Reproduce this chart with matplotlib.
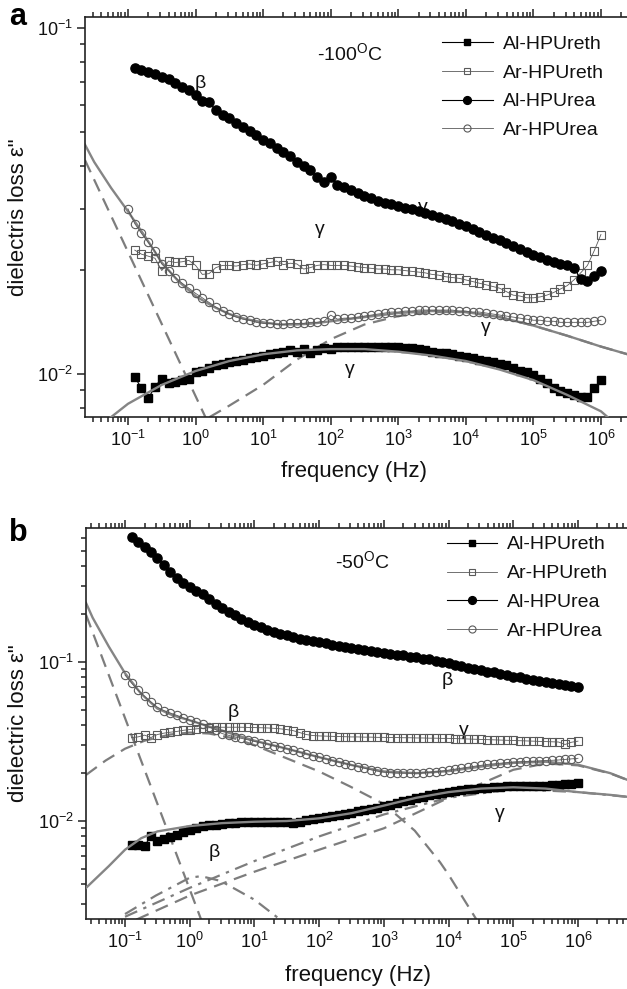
import matplotlib
matplotlib.use('Agg')
import matplotlib.pyplot as plt
from matplotlib.ticker import LogLocator, NullFormatter, FixedLocator

plt.rcParams['font.family'] = ['Liberation Sans', 'DejaVu Sans']
plt.rcParams['mathtext.fontset'] = 'custom'
plt.rcParams['mathtext.rm'] = 'Liberation Sans'
plt.rcParams['mathtext.it'] = 'Liberation Sans:italic'
plt.rcParams['mathtext.bf'] = 'Liberation Sans:bold'

# ---------------- data ----------------
FREQ = [0.1, 0.126, 0.158, 0.2, 0.251, 0.316, 0.398, 0.501, 0.631, 0.794,
        1, 1.26, 1.58, 2, 2.51, 3.16, 3.98, 5.01, 6.31, 7.94,
        10, 12.6, 15.8, 20, 25.1, 31.6, 39.8, 50.1, 63.1, 79.4,
        100, 126, 158, 200, 251, 316, 398, 501, 631, 794,
        1e3, 1.26e3, 1.58e3, 2e3, 2.51e3, 3.16e3, 3.98e3, 5.01e3, 6.31e3, 7.94e3,
        1e4, 1.26e4, 1.58e4, 2e4, 2.51e4, 3.16e4, 3.98e4, 5.01e4, 6.31e4, 7.94e4,
        1e5, 1.26e5, 1.58e5, 2e5, 2.51e5, 3.16e5, 3.98e5, 5.01e5, 6.31e5, 7.94e5,
        1e6]

LABELS = ['Al-HPUreth', 'Ar-HPUreth', 'Al-HPUrea', 'Ar-HPUrea']
X_TICKS = [0.1, 1, 10, 100, 1e3, 1e4, 1e5, 1e6]
Y_TICKS_A = [0.01, 0.1]
Y_TICKS_B = [0.01, 0.1]

# panel a (-100 C); first three series start at 0.126 Hz, Ar-HPUrea at 0.1 Hz
a_al_ureth = [0.0098, 0.0091, 0.0085, 0.0092, 0.0097, 0.0094, 0.0095, 0.0096, 0.0097, 0.0101,
              0.0102, 0.0104, 0.0106, 0.0107, 0.0108, 0.0109, 0.0110, 0.0111, 0.0112, 0.0113,
              0.0114, 0.0115, 0.0116, 0.0117, 0.0116, 0.0118, 0.0115, 0.0117, 0.0119, 0.0118,
              0.0120, 0.0120, 0.0120, 0.0120, 0.0120, 0.0120, 0.0120, 0.0120, 0.0120, 0.0120,
              0.0119, 0.0119, 0.0118, 0.0117, 0.0116, 0.0115, 0.0115, 0.0114, 0.0113, 0.0112,
              0.0111, 0.0110, 0.0109, 0.0108, 0.0107, 0.0106, 0.0104, 0.0102, 0.0101, 0.0099,
              0.0097, 0.0094, 0.0091, 0.0089, 0.0088, 0.0087, 0.0086, 0.0086, 0.0091, 0.0096]
a_ar_ureth = [0.0228, 0.0222, 0.0219, 0.0216, 0.0199, 0.0212, 0.0210, 0.0211, 0.0213, 0.0206,
              0.0194, 0.0195, 0.0203, 0.0206, 0.0206, 0.0205, 0.0207, 0.0208, 0.0206, 0.0208,
              0.0210, 0.0212, 0.0207, 0.0209, 0.0208, 0.0201, 0.0203, 0.0206, 0.0207, 0.0206,
              0.0206, 0.0206, 0.0205, 0.0204, 0.0203, 0.0202, 0.0201, 0.0201, 0.0200, 0.0200,
              0.0199, 0.0198, 0.0197, 0.0196, 0.0194, 0.0193, 0.0191, 0.0190, 0.0189, 0.0187,
              0.0185, 0.0183, 0.0181, 0.0179, 0.0177, 0.0173, 0.0169, 0.0168, 0.0166, 0.0166,
              0.0167, 0.0169, 0.0172, 0.0176, 0.0180, 0.0187, 0.0196, 0.0206, 0.0227, 0.0253]
a_al_urea = [0.0766, 0.0756, 0.0746, 0.0736, 0.0722, 0.0712, 0.0694, 0.0675, 0.0660, 0.0640,
             0.0615, 0.0610, 0.0578, 0.0562, 0.0548, 0.0532, 0.0517, 0.0504, 0.0490, 0.0476,
             0.0464, 0.0451, 0.0439, 0.0427, 0.0410, 0.0400, 0.0388, 0.0372, 0.0360, 0.0372,
             0.0352, 0.0346, 0.0340, 0.0333, 0.0327, 0.0322, 0.0317, 0.0313, 0.0309, 0.0305,
             0.0302, 0.0299, 0.0296, 0.0292, 0.0288, 0.0284, 0.0280, 0.0277, 0.0272, 0.0267,
             0.0262, 0.0257, 0.0253, 0.0248, 0.0244, 0.0239, 0.0234, 0.0229, 0.0225, 0.0221,
             0.0218, 0.0214, 0.0211, 0.0208, 0.0206, 0.0203, 0.0188, 0.0186, 0.0192, 0.0199]
a_ar_urea = [0.0300, 0.0272, 0.0255, 0.0240, 0.0226, 0.0208, 0.0199, 0.0190, 0.0183, 0.0177,
             0.0171, 0.0166, 0.0161, 0.0156, 0.0152, 0.0149, 0.0146, 0.0144, 0.0143, 0.0141,
             0.0140, 0.0140, 0.0139, 0.0139, 0.0140, 0.0140, 0.0140, 0.0141, 0.0141, 0.0142,
             0.0148, 0.0144, 0.0145, 0.0145, 0.0146, 0.0147, 0.0148, 0.0149, 0.0150, 0.0151,
             0.0151, 0.0152, 0.0152, 0.0153, 0.0153, 0.0153, 0.0153, 0.0153, 0.0153, 0.0152,
             0.0152, 0.0151, 0.0151, 0.0150, 0.0149, 0.0148, 0.0147, 0.0146, 0.0145, 0.0144,
             0.0143, 0.0143, 0.0142, 0.0142, 0.0141, 0.0141, 0.0141, 0.0141, 0.0141, 0.0142,
             0.0143]

# panel a fit curves
a_fit_urea_f = [0.0231, 0.0316, 0.0562, 0.1, 0.178, 0.316, 0.562, 1, 1.78, 3.16, 5.62, 10,
                17.8, 31.6, 56.2, 100, 316, 1e3, 3.16e3, 1e4, 3.16e4, 1e5, 3.16e5, 1e6, 2.9e6]
a_fit_urea_y = [0.0460, 0.0410, 0.0345, 0.0295, 0.0250, 0.0210, 0.0185, 0.0168, 0.0157, 0.0149,
                0.0144, 0.0141, 0.0139, 0.0139, 0.0140, 0.0142, 0.0146, 0.0150, 0.0152, 0.0151,
                0.0146, 0.0138, 0.0129, 0.0120, 0.0113]
a_dash_low_f = [0.0231, 1.4]
a_dash_low_y = [0.0415, 0.0075]
a_dash_gam_f = [1.6, 3.16, 10, 31.6, 100, 316, 1e3, 3.16e3, 1e4, 3.16e4, 1e5, 3.16e5, 1e6, 2.9e6]
a_dash_gam_y = [0.0075, 0.0081, 0.0093, 0.0110, 0.0126, 0.0139, 0.0147, 0.0151, 0.0151, 0.0146,
                0.0138, 0.0129, 0.0120, 0.0113]
a_fit_ureth_f = [0.056, 0.1, 0.316, 1, 3.16, 10, 31.6, 100, 316, 1e3, 3.16e3, 1e4, 3.16e4,
                 1e5, 3.16e5, 1e6, 1.26e6]
a_fit_ureth_y = [0.0075, 0.0082, 0.0093, 0.0102, 0.0109, 0.0114, 0.0117, 0.0118, 0.0118, 0.0116,
                 0.0113, 0.0109, 0.0103, 0.0096, 0.0087, 0.0078, 0.0075]

# panel b (-50 C)
b_al_ureth = [0.0071, 0.0071, 0.0070, 0.0080, 0.0075, 0.0077, 0.0079, 0.0082, 0.0085, 0.0088,
              0.0091, 0.0093, 0.0094, 0.0095, 0.0096, 0.0097, 0.0097, 0.0098, 0.0098, 0.0099,
              0.0099, 0.0099, 0.0099, 0.0099, 0.0098, 0.0097, 0.0098, 0.0102, 0.0103, 0.0104,
              0.0106, 0.0107, 0.0109, 0.0110, 0.0112, 0.0115, 0.0117, 0.0119, 0.0121, 0.0124,
              0.0127, 0.0130, 0.0133, 0.0136, 0.0139, 0.0142, 0.0145, 0.0148, 0.0150, 0.0153,
              0.0155, 0.0157, 0.0159, 0.0160, 0.0161, 0.0162, 0.0163, 0.0164, 0.0165, 0.0165,
              0.0166, 0.0166, 0.0167, 0.0167, 0.0167, 0.0168, 0.0168, 0.0170, 0.0172, 0.0174]
b_ar_ureth = [0.0335, 0.0338, 0.0347, 0.0335, 0.0350, 0.0357, 0.0362, 0.0366, 0.0372, 0.0376,
              0.0380, 0.0383, 0.0386, 0.0388, 0.0389, 0.0389, 0.0389, 0.0389, 0.0388, 0.0387,
              0.0386, 0.0385, 0.0383, 0.0380, 0.0376, 0.0370, 0.0360, 0.0350, 0.0345, 0.0343,
              0.0342, 0.0341, 0.0340, 0.0339, 0.0338, 0.0338, 0.0337, 0.0337, 0.0336, 0.0336,
              0.0335, 0.0335, 0.0334, 0.0334, 0.0333, 0.0333, 0.0332, 0.0332, 0.0331, 0.0331,
              0.0330, 0.0329, 0.0328, 0.0327, 0.0326, 0.0325, 0.0324, 0.0323, 0.0322, 0.0321,
              0.0320, 0.0319, 0.0318, 0.0317, 0.0316, 0.0315, 0.0314, 0.0303, 0.0313, 0.0318]
b_al_urea = [0.611, 0.570, 0.530, 0.490, 0.450, 0.410, 0.370, 0.340, 0.315, 0.296,
             0.281, 0.266, 0.248, 0.232, 0.218, 0.207, 0.197, 0.187, 0.178, 0.171,
             0.165, 0.160, 0.155, 0.151, 0.147, 0.143, 0.140, 0.138, 0.136, 0.134,
             0.131, 0.128, 0.126, 0.124, 0.122, 0.121, 0.119, 0.118, 0.116, 0.114,
             0.113, 0.111, 0.110, 0.108, 0.107, 0.105, 0.104, 0.102, 0.100, 0.098,
             0.096, 0.094, 0.092, 0.091, 0.089, 0.087, 0.086, 0.084, 0.083, 0.081,
             0.080, 0.078, 0.077, 0.076, 0.075, 0.074, 0.073, 0.072, 0.071, 0.070]
b_ar_urea = [0.0828, 0.0738, 0.0667, 0.0610, 0.0560, 0.0520, 0.0495, 0.0478, 0.0462, 0.0445,
             0.0430, 0.0418, 0.0405, 0.0390, 0.0376, 0.0355, 0.0346, 0.0338, 0.0331, 0.0324,
             0.0317, 0.0311, 0.0305, 0.0298, 0.0292, 0.0285, 0.0278, 0.0271, 0.0264, 0.0258,
             0.0252, 0.0246, 0.0240, 0.0235, 0.0230, 0.0225, 0.0220, 0.0215, 0.0210, 0.0206,
             0.0203, 0.0201, 0.0200, 0.0200, 0.0200, 0.0200, 0.0201, 0.0202, 0.0204, 0.0206,
             0.0209, 0.0212, 0.0215, 0.0218, 0.0221, 0.0224, 0.0227, 0.0229, 0.0231, 0.0233,
             0.0235, 0.0236, 0.0237, 0.0238, 0.0239, 0.0240, 0.0241, 0.0242, 0.0244, 0.0246,
             0.0248]

# panel b fit curves
b_fit_urea_f = [0.025, 0.0316, 0.0562, 0.1, 0.178, 0.316, 0.562, 1, 3.16, 10, 31.6, 100, 316,
                1e3, 3.16e3, 1e4, 3.16e4, 1e5, 3.16e5, 1e6, 3.16e6, 6.8e6]
b_fit_urea_y = [0.235, 0.190, 0.125, 0.085, 0.063, 0.051, 0.046, 0.043, 0.037, 0.032, 0.0285,
                0.0252, 0.0225, 0.0205, 0.0200, 0.0206, 0.0220, 0.0232, 0.0236, 0.0226, 0.0200,
                0.0177]
b_dash_cond_f = [0.025, 1.5]
b_dash_cond_y = [0.198, 0.0024]
b_dash_beta_f = [0.025, 0.05, 0.1, 0.2, 0.5, 1, 2, 5, 10, 30, 100, 300, 1e3, 3e3, 7.4e3, 1e4, 2.7e4]
b_dash_beta_y = [0.0195, 0.024, 0.0285, 0.032, 0.035, 0.036, 0.0355, 0.033, 0.030, 0.025, 0.0205,
                 0.0165, 0.0128, 0.0087, 0.0055, 0.0046, 0.0024]
b_dash_gam_f = [0.15, 1, 10, 100, 1e3, 1e4, 1e5, 3.16e5, 1e6, 3.16e6, 6.8e6]
b_dash_gam_y = [0.0024, 0.0034, 0.0048, 0.0066, 0.0090, 0.0140, 0.0210, 0.0230, 0.0224, 0.0199,
                0.0177]
b_fit_ureth_f = [0.025, 0.056, 0.1, 0.178, 0.316, 1, 3.16, 10, 31.6, 100, 316, 1e3, 3.16e3, 1e4,
                 3.16e4, 1e5, 3.16e5, 1e6, 3.16e6, 6.8e6]
b_fit_ureth_y = [0.0038, 0.0052, 0.0066, 0.0078, 0.0086, 0.0093, 0.0097, 0.0099, 0.0100, 0.0104,
                 0.0112, 0.0125, 0.0140, 0.0152, 0.0160, 0.0163, 0.0160, 0.0152, 0.0146, 0.0141]
b_dd_beta_f = [0.1, 0.3, 1, 1.5, 3, 10, 25]
b_dd_beta_y = [0.0026, 0.0034, 0.0044, 0.0045, 0.0042, 0.0032, 0.0024]
b_dd_gam_f = [0.1, 1, 10, 100, 1e3, 1e4, 1e5, 1e6, 6.8e6]
b_dd_gam_y = [0.0025, 0.0038, 0.0056, 0.0080, 0.0110, 0.0140, 0.0159, 0.0152, 0.0141]

# ---------------- figure ----------------
fig = plt.figure(figsize=(6.27, 9.89), dpi=100)
W, H = 627.0, 989.0
axA = fig.add_axes([85 / W, 1 - 417 / H, 547 / W, 400 / H])
axB = fig.add_axes([86 / W, 1 - 919 / H, 546 / W, 391 / H])

FIT = '#858585'
DASH = '#7d7d7d'
OPEN = '#5a5a5a'


def style(ax, xlim, ylim, yticks):
    ax.set_xscale('log')
    ax.set_yscale('log')
    ax.xaxis.set_major_locator(FixedLocator(X_TICKS))
    ax.yaxis.set_major_locator(FixedLocator(yticks))
    for axis in (ax.xaxis, ax.yaxis):
        axis.set_minor_locator(LogLocator(base=10, subs=range(2, 10), numticks=300))
        axis.set_minor_formatter(NullFormatter())
    ax.set_xlim(*xlim)
    ax.set_ylim(*ylim)
    ax.tick_params(which='both', direction='out', top=True, right=False,
                   labelsize=13, width=1.1, color='#222222', labelcolor='#111111')
    ax.tick_params(which='major', length=6, pad=3)
    ax.tick_params(which='minor', length=3.5)
    for s in ax.spines.values():
        s.set_linewidth(1.2)
        s.set_color('#222222')


def draw_series(ax, y_al_ureth, y_ar_ureth, y_al_urea, y_ar_urea):
    handles = []
    h, = ax.plot(FREQ[1:], y_al_ureth, '-s', color='k', lw=0.8, ms=5.2, mfc='k', mec='k',
                 zorder=5, label=LABELS[0])
    handles.append(h)
    h, = ax.plot(FREQ[1:], y_ar_ureth, '-s', color=OPEN, lw=0.6, ms=5.8, mfc='none', mec=OPEN,
                 mew=0.8, zorder=4, label=LABELS[1])
    handles.append(h)
    h, = ax.plot(FREQ[1:], y_al_urea, '-o', color='k', lw=0.8, ms=6.6, mfc='k', mec='k',
                 zorder=5, label=LABELS[2])
    handles.append(h)
    h, = ax.plot(FREQ, y_ar_urea, '-o', color=OPEN, lw=0.6, ms=6.0, mfc='none', mec=OPEN,
                 mew=0.8, zorder=4, label=LABELS[3])
    handles.append(h)
    return handles


DASHES = (0, (6, 3.5))
DASHDOT = (0, (6, 3, 1.5, 3))

# ----- panel a -----
style(axA, (0.0231, 2.88e6), (0.00751, 0.1076), Y_TICKS_A)
axA.plot(a_fit_urea_f, a_fit_urea_y, '-', color=FIT, lw=1.7, zorder=2)
axA.plot(a_dash_low_f, a_dash_low_y, color=DASH, lw=1.6, ls=DASHES, zorder=2)
axA.plot(a_dash_gam_f, a_dash_gam_y, color=DASH, lw=1.6, ls=DASHES, zorder=2)
axA.plot(a_fit_ureth_f, a_fit_ureth_y, '-', color=FIT, lw=1.7, zorder=6)
hA = draw_series(axA, a_al_ureth, a_ar_ureth, a_al_urea, a_ar_urea)

# ----- panel b -----
style(axB, (0.02494, 6.84e6), (0.00242, 0.6966), Y_TICKS_B)
axB.plot(b_fit_urea_f, b_fit_urea_y, '-', color=FIT, lw=1.7, zorder=2)
axB.plot(b_dash_cond_f, b_dash_cond_y, color=DASH, lw=1.6, ls=DASHES, zorder=2)
axB.plot(b_dash_beta_f, b_dash_beta_y, color=DASH, lw=1.6, ls=DASHES, zorder=2)
axB.plot(b_dash_gam_f, b_dash_gam_y, color=DASH, lw=1.6, ls=DASHES, zorder=2)
axB.plot(b_fit_ureth_f, b_fit_ureth_y, '-', color=FIT, lw=1.7, zorder=6)
axB.plot(b_dd_beta_f, b_dd_beta_y, color=DASH, lw=1.6, ls=DASHDOT, zorder=2)
axB.plot(b_dd_gam_f, b_dd_gam_y, color=DASH, lw=1.6, ls=DASHDOT, zorder=2)
hB = draw_series(axB, b_al_ureth, b_ar_ureth, b_al_urea, b_ar_urea)

for ax, hs, anchor in ((axA, hA, (0.653, 0.955)), (axB, hB, (0.661, 0.98))):
    leg = ax.legend(handles=hs, loc='upper left', bbox_to_anchor=anchor, frameon=False,
                    fontsize=14, handlelength=2.6, handletextpad=0.5, labelspacing=0.58,
                    borderpad=0, borderaxespad=0, markerscale=0.85, numpoints=1)
    for t in leg.get_texts():
        t.set_color('#111111')

# text annotations (axes-fraction positions)
TXT = dict(fontsize=14, ha='center', va='center', color='#111111')
axA.text(0.4845, 0.91, r'-100$^{\rm O}$C', transform=axA.transAxes, **TXT)
axA.text(0.210, 0.835, 'β', transform=axA.transAxes, **TXT)
axA.text(0.618, 0.525, 'γ', transform=axA.transAxes, **TXT)
axA.text(0.430, 0.4675, 'γ', transform=axA.transAxes, **TXT)
axA.text(0.733, 0.225, 'γ', transform=axA.transAxes, **TXT)
axA.text(0.4845, 0.12, 'γ', transform=axA.transAxes, **TXT)

axB.text(0.5055, 0.9156, r'-50$^{\rm O}$C', transform=axB.transAxes, **TXT)
axB.text(0.661, 0.611, 'β', transform=axB.transAxes, **TXT)
axB.text(0.269, 0.529, 'β', transform=axB.transAxes, **TXT)
axB.text(0.692, 0.483, 'γ', transform=axB.transAxes, **TXT)
axB.text(0.758, 0.271, 'γ', transform=axB.transAxes, **TXT)
axB.text(0.234, 0.171, 'β', transform=axB.transAxes, **TXT)

# axis labels
fig.text(19 / W, 1 - 217 / H, 'dielectris loss ε"', rotation=90, ha='center', va='center',
         fontsize=16, color='#111111')
fig.text(19 / W, 1 - 723 / H, 'dielectric loss ε"', rotation=90, ha='center', va='center',
         fontsize=16, color='#111111')
fig.text(354 / W, 1 - 472 / H, 'frequency (Hz)', ha='center', va='center', fontsize=16,
         color='#111111')
fig.text(358 / W, 1 - 976 / H, 'frequency (Hz)', ha='center', va='center', fontsize=16,
         color='#111111')

# panel letters
fig.text(18 / W, 1 - 17 / H, 'a', ha='center', va='center', fontsize=22, fontweight='bold')
fig.text(18 / W, 1 - 533 / H, 'b', ha='center', va='center', fontsize=22, fontweight='bold')

fig.savefig('out.png', dpi=100)
